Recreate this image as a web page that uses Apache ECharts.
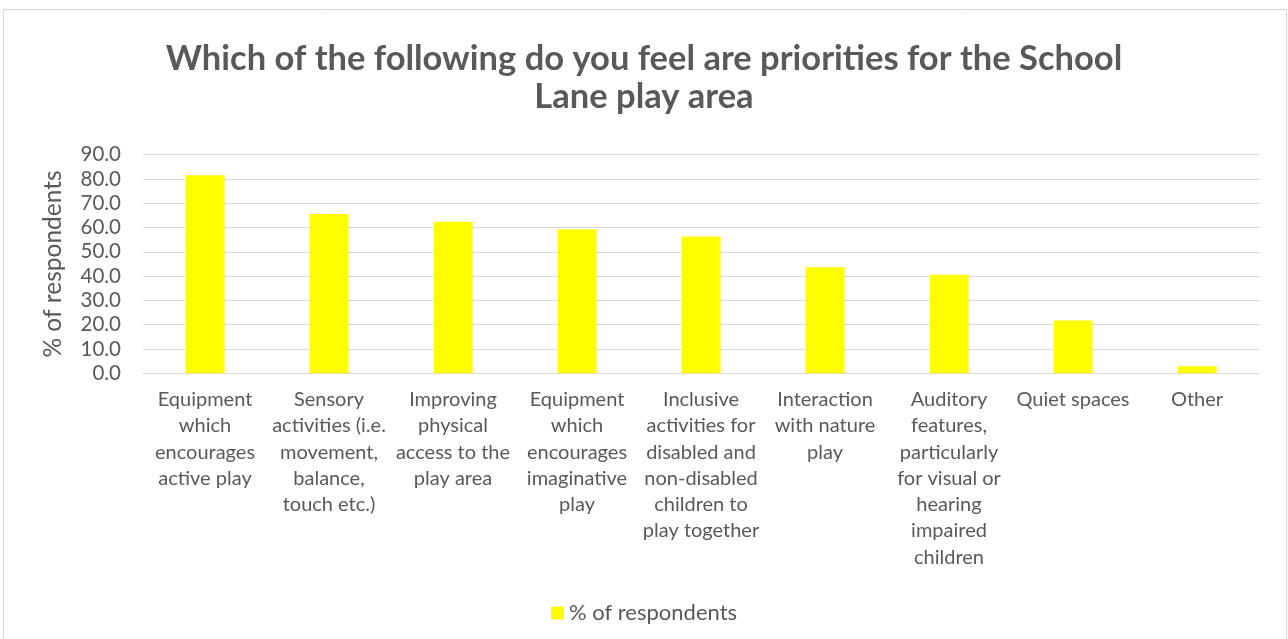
<!DOCTYPE html>
<html>
<head>
<meta charset="utf-8">
<script src="https://cdn.jsdelivr.net/npm/echarts@6/dist/echarts.min.js"></script>
<style>
html,body{margin:0;padding:0;background:#fff;}
#chart{width:1288px;height:639px;}
</style>
</head>
<body>
<div id="chart"></div>
<script>
const titleText = "Which of the following do you feel are priorities for the School\nLane play area";
const seriesName = "% of respondents";
const categories = [
  "Equipment\nwhich\nencourages\nactive play",
  "Sensory\nactivities (i.e.\nmovement,\nbalance,\ntouch etc.)",
  "Improving\nphysical\naccess to the\nplay area",
  "Equipment\nwhich\nencourages\nimaginative\nplay",
  "Inclusive\nactivities for\ndisabled and\nnon-disabled\nchildren to\nplay together",
  "Interaction\nwith nature\nplay",
  "Auditory\nfeatures,\nparticularly\nfor visual or\nhearing\nimpaired\nchildren",
  "Quiet spaces",
  "Other"
];
const values = [81.5, 65.6, 62.4, 59.3, 56.3, 43.6, 40.6, 21.7, 2.9];
const yMin = 0, yMax = 90, yStep = 10;

const FONT = "Lato";
const GREY = "#595959";
const chart = echarts.init(document.getElementById('chart'));
chart.setOption({
  animation: false,
  backgroundColor: '#fff',
  title: {
    text: titleText,
    left: 'center',
    top: 35,
    textStyle: {fontFamily: FONT, fontWeight: 'bold', fontSize: 34.5, lineHeight: 38, color: GREY}
  },
  graphic: [{
    type: 'rect', shape: {x: 3.5, y: 9.5, width: 1283, height: 640},
    style: {fill: 'none', stroke: '#d9d9d9', lineWidth: 1}, silent: true
  }],
  legend: {
    data: [seriesName],
    left: 'center',
    top: 597,
    itemWidth: 13, itemHeight: 13, itemGap: 8,
    icon: 'rect',
    textStyle: {fontFamily: FONT, fontSize: 22, color: GREY}
  },
  grid: {left: 143, right: 29, top: 154.6, bottom: 265.7, containLabel: false},
  xAxis: {
    type: 'category',
    data: categories,
    axisTick: {show: false},
    axisLine: {lineStyle: {color: '#d9d9d9', width: 1}},
    axisLabel: {interval: 0, margin: 13, fontFamily: FONT, fontSize: 20, lineHeight: 26.3, color: GREY, align: 'center', verticalAlign: 'top'}
  },
  yAxis: {
    type: 'value', min: yMin, max: yMax, interval: yStep,
    name: seriesName, nameLocation: 'middle', nameGap: 77, nameRotate: 90,
    nameTextStyle: {fontFamily: FONT, fontSize: 24.5, color: GREY},
    axisLine: {show: false}, axisTick: {show: false},
    splitLine: {lineStyle: {color: '#d9d9d9', width: 1}},
    axisLabel: {fontFamily: FONT, fontSize: 20.5, color: GREY, margin: 22, formatter: v => v.toFixed(1)}
  },
  series: [{
    name: seriesName,
    type: 'bar',
    data: values,
    barWidth: 39,
    itemStyle: {color: '#ffff00'}
  }]
});
</script>
</body>
</html>
